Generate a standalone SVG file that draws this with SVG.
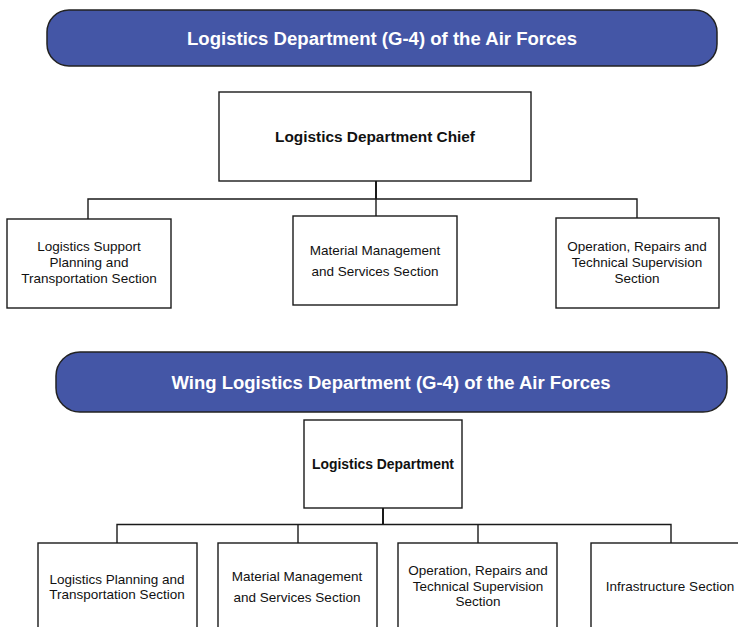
<svg xmlns="http://www.w3.org/2000/svg" width="738" height="627" viewBox="0 0 738 627">
<style>
.banner{fill:#4456A6;stroke:#222;stroke-width:1.5}
.box{fill:#fff;stroke:#1a1a1a;stroke-width:1.4}
.title{font-family:"Liberation Sans",Arial,sans-serif;font-weight:bold;font-size:18px;fill:#fff;text-anchor:middle}
.head{font-family:"Liberation Sans",Arial,sans-serif;font-weight:bold;font-size:14px;fill:#111;text-anchor:middle}
.lbl{font-family:"Liberation Sans",Arial,sans-serif;font-size:13.5px;fill:#111;text-anchor:middle}
.conn{fill:none;stroke:#1a1a1a;stroke-width:1.4}
.trunk{fill:none;stroke:#1a1a1a;stroke-width:2}
</style>
<rect width="738" height="627" fill="#fff"/>
<g id="banner1"><rect class="banner" x="47" y="10" width="670" height="56" rx="22"/>
<text class="title" x="382" y="45" textLength="390" lengthAdjust="spacingAndGlyphs">Logistics Department (G-4) of the Air Forces</text></g>
<g id="banner2"><rect class="banner" x="56" y="352" width="671" height="60" rx="24"/>
<text class="title" x="391" y="389" textLength="439" lengthAdjust="spacingAndGlyphs">Wing Logistics Department (G-4) of the Air Forces</text></g>
<g id="connectors">
<path class="trunk" d="M376 181V199"/>
<path class="conn" d="M88 219V199H637V218M376 199V216"/>
<path class="trunk" d="M383 508V524"/>
<path class="conn" d="M117 543V524.5H671V543M298 524.5V543M478 524.5V543"/>
</g>
<g id="chief"><rect class="box" x="219" y="92" width="312" height="89"/>
<text class="head" x="375" y="142" textLength="200" lengthAdjust="spacingAndGlyphs">Logistics Department Chief</text></g>
<g id="lsp"><rect class="box" x="7" y="219" width="164" height="89"/>
<text class="lbl" x="89" y="251">Logistics Support</text>
<text class="lbl" x="89" y="267">Planning and</text>
<text class="lbl" x="89" y="283">Transportation Section</text></g>
<g id="mms"><rect class="box" x="293" y="216" width="164" height="89"/>
<text class="lbl" x="375" y="255">Material Management</text>
<text class="lbl" x="375" y="276">and Services Section</text></g>
<g id="ors"><rect class="box" x="556" y="218" width="163" height="90"/>
<text class="lbl" x="637" y="251">Operation, Repairs and</text>
<text class="lbl" x="637" y="267">Technical Supervision</text>
<text class="lbl" x="637" y="283">Section</text></g>
<g id="ld"><rect class="box" x="304" y="420" width="158" height="88"/>
<text class="head" x="383" y="469" textLength="142" lengthAdjust="spacingAndGlyphs">Logistics Department</text></g>
<g id="lpt"><rect class="box" x="38" y="543" width="159" height="90"/>
<text class="lbl" x="117" y="584">Logistics Planning and</text>
<text class="lbl" x="117" y="599">Transportation Section</text></g>
<g id="mms2"><rect class="box" x="218" y="543" width="159" height="90"/>
<text class="lbl" x="297" y="581">Material Management</text>
<text class="lbl" x="297" y="602">and Services Section</text></g>
<g id="ors2"><rect class="box" x="398" y="543" width="159" height="90"/>
<text class="lbl" x="478" y="575">Operation, Repairs and</text>
<text class="lbl" x="478" y="591">Technical Supervision</text>
<text class="lbl" x="478" y="606">Section</text></g>
<g id="infra"><rect class="box" x="591" y="543" width="160" height="90"/>
<text class="lbl" x="670" y="591">Infrastructure Section</text></g>
</svg>
